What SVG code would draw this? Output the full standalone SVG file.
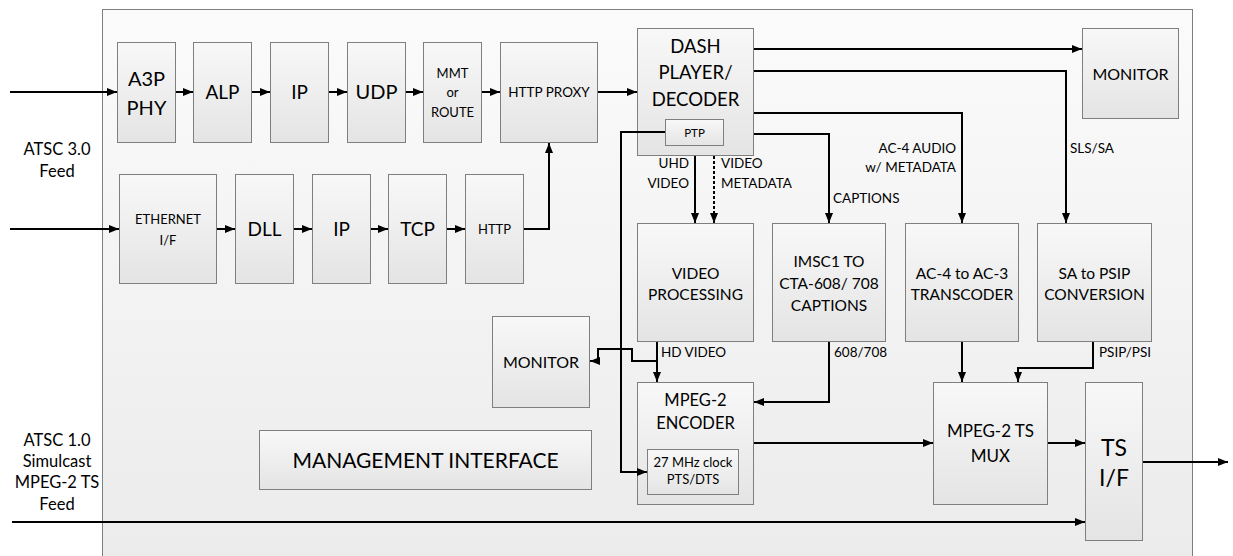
<svg xmlns="http://www.w3.org/2000/svg" width="1233" height="556" viewBox="0 0 1233 556">
<defs>
<linearGradient id="gOuter" x1="0" y1="0" x2="0" y2="1"><stop offset="0" stop-color="#fbfbfb"/><stop offset="1" stop-color="#ebebeb"/></linearGradient>
<linearGradient id="gBox" x1="0" y1="0" x2="0" y2="1"><stop offset="0" stop-color="#f8f8f8"/><stop offset="1" stop-color="#e4e4e4"/></linearGradient>
<marker id="ah" markerUnits="userSpaceOnUse" markerWidth="10" markerHeight="8" refX="10" refY="4" orient="auto"><path d="M0,0 L10,4 L0,8 z" fill="#000"/></marker>
</defs>
<style>
.box{fill:url(#gBox);stroke:#7f7f7f;stroke-width:1}
.t{font-family:Lato,"Liberation Sans",sans-serif;fill:#000;text-anchor:middle}
.big{font-size:19px}
.mid{font-size:16px}
.md2{font-size:15.5px}
.sm{font-size:13px}
.lbl{font-family:Lato,"Liberation Sans",sans-serif;font-size:13.5px;fill:#000}
.c{fill:none;stroke:#000;stroke-width:2;marker-end:url(#ah)}
</style>
<rect id="outer" x="102.5" y="9.5" width="1090" height="560" fill="url(#gOuter)" stroke="#7f7f7f" stroke-width="1"/>

<g id="atsc3-label"><text class="t" style="font-size:16.5px" x="57" y="155">ATSC 3.0</text><text class="t" style="font-size:16.5px" x="57" y="177">Feed</text></g>
<g id="atsc1-label"><text class="t" style="font-size:16.5px" x="57" y="446">ATSC 1.0</text><text class="t" style="font-size:16.5px" x="57" y="467">Simulcast</text><text class="t" style="font-size:16.5px" x="57" y="488">MPEG-2 TS</text><text class="t" style="font-size:16.5px" x="57" y="510">Feed</text></g>

<g id="a3p"><rect class="box" x="117.5" y="42.5" width="58" height="100"/><text class="t" style="font-size:20px" x="146.5" y="86">A3P</text><text class="t" style="font-size:20px" x="146.5" y="115">PHY</text></g>
<g id="alp"><rect class="box" x="193.5" y="42.5" width="58" height="100"/><text class="t big" x="222.5" y="99">ALP</text></g>
<g id="ip1"><rect class="box" x="270.5" y="42.5" width="58" height="100"/><text class="t big" x="299.5" y="99">IP</text></g>
<g id="udp"><rect class="box" x="347.5" y="42.5" width="58" height="100"/><text class="t" style="font-size:20px" x="376.5" y="99">UDP</text></g>
<g id="mmt"><rect class="box" x="423.5" y="42.5" width="58" height="100"/><text class="t sm" x="452.5" y="78">MMT</text><text class="t sm" x="452.5" y="97">or</text><text class="t sm" x="452.5" y="117">ROUTE</text></g>
<g id="proxy"><rect class="box" x="500.5" y="42.5" width="97" height="100"/><text class="t" style="font-size:13.5px" x="549" y="97">HTTP PROXY</text></g>
<g id="dash"><rect class="box" x="637.5" y="28.5" width="116" height="127"/><text class="t" style="font-size:18.5px" x="695.5" y="53">DASH</text><text class="t" style="font-size:18.5px" x="695.5" y="79">PLAYER/</text><text class="t" style="font-size:18.5px" x="695.5" y="106">DECODER</text>
<rect class="box" x="665.5" y="119.5" width="58" height="26"/><text class="t" style="font-size:11.5px" x="694.5" y="137">PTP</text></g>
<g id="monitor1"><rect class="box" x="1082.5" y="28.5" width="96" height="90"/><text class="t mid" x="1130.5" y="80">MONITOR</text></g>

<g id="eth"><rect class="box" x="119.5" y="174.5" width="97" height="109"/><text class="t sm" x="168" y="224">ETHERNET</text><text class="t sm" x="168" y="245">I/F</text></g>
<g id="dll"><rect class="box" x="235.5" y="174.5" width="58" height="109"/><text class="t big" x="264.5" y="236">DLL</text></g>
<g id="ip2"><rect class="box" x="312.5" y="174.5" width="58" height="109"/><text class="t big" x="341.5" y="236">IP</text></g>
<g id="tcp"><rect class="box" x="388.5" y="174.5" width="58" height="109"/><text class="t big" x="417.5" y="236">TCP</text></g>
<g id="http"><rect class="box" x="465.5" y="174.5" width="58" height="109"/><text class="t sm" x="494.5" y="234">HTTP</text></g>

<g id="vproc"><rect class="box" x="637.5" y="223.5" width="116" height="118"/><text class="t md2" x="695.5" y="279">VIDEO</text><text class="t md2" x="695.5" y="300">PROCESSING</text></g>
<g id="imsc"><rect class="box" x="772.5" y="223.5" width="113" height="118"/><text class="t md2" x="829" y="267">IMSC1 TO</text><text class="t md2" x="829" y="289">CTA-608/ 708</text><text class="t md2" x="829" y="311">CAPTIONS</text></g>
<g id="ac4"><rect class="box" x="905.5" y="223.5" width="113" height="118"/><text class="t md2" x="962" y="279">AC-4 to AC-3</text><text class="t md2" x="962" y="300">TRANSCODER</text></g>
<g id="sa"><rect class="box" x="1037.5" y="223.5" width="114" height="118"/><text class="t md2" x="1094.5" y="279">SA to PSIP</text><text class="t md2" x="1094.5" y="300">CONVERSION</text></g>

<g id="monitor2"><rect class="box" x="492.5" y="316.5" width="97" height="91"/><text class="t mid" x="541" y="368">MONITOR</text></g>
<g id="mgmt"><rect class="box" x="259.5" y="430.5" width="332" height="59"/><text class="t" style="font-size:21px" x="425.5" y="468">MANAGEMENT INTERFACE</text></g>

<g id="encoder"><rect class="box" x="637.5" y="382.5" width="116" height="122"/><text class="t" style="font-size:16.5px" x="695.5" y="406">MPEG-2</text><text class="t" style="font-size:16.5px" x="695.5" y="429">ENCODER</text>
<rect class="box" x="647.5" y="449.5" width="91" height="45"/><text class="t sm" x="693" y="467">27 MHz clock</text><text class="t sm" x="693" y="484">PTS/DTS</text></g>
<g id="mux"><rect class="box" x="933.5" y="382.5" width="114" height="122"/><text class="t" style="font-size:17px" x="990.5" y="437">MPEG-2 TS</text><text class="t" style="font-size:17px" x="990.5" y="462">MUX</text></g>
<g id="tsif"><rect class="box" x="1085.5" y="382.5" width="57" height="158"/><text class="t" style="font-size:23px" x="1114" y="456">TS</text><text class="t" style="font-size:23px" x="1114" y="486">I/F</text></g>

<g id="connectors">
<path class="c" d="M10,92 H117"/>
<path class="c" d="M176,92 H193"/>
<path class="c" d="M252,92 H270"/>
<path class="c" d="M329,92 H347"/>
<path class="c" d="M406,92 H423"/>
<path class="c" d="M482,92 H500"/>
<path class="c" d="M598,92 H637"/>
<path class="c" d="M10,229 H119"/>
<path class="c" d="M217,229 H235"/>
<path class="c" d="M294,229 H312"/>
<path class="c" d="M371,229 H388"/>
<path class="c" d="M447,229 H465"/>
<path class="c" d="M524,229 H549 V143"/>
<path class="c" d="M754,49 H1082"/>
<path class="c" d="M754,71 H1066 V223"/>
<path class="c" d="M754,113 H962 V223"/>
<path class="c" d="M754,134 H829 V223"/>
<path class="c" d="M695,156 V223"/>
<path class="c" d="M714,156 V223" style="stroke-dasharray:3,2"/>
<path class="c" d="M665,132 H621 V472 H647"/>
<path class="c" d="M657,342 V382"/>
<path class="c" d="M657,361 H632 V349 H598 V361 H590"/>
<path class="c" d="M829,342 V402 H754"/>
<path class="c" d="M754,443 H933"/>
<path class="c" d="M962,342 V382"/>
<path class="c" d="M1093,342 V368 H1018 V382"/>
<path class="c" d="M1048,443 H1085"/>
<path class="c" d="M1143,462 H1228"/>
<path class="c" d="M12,522 H1085"/>
</g>
<g id="labels">
<text class="lbl" x="689" y="168" text-anchor="end">UHD</text>
<text class="lbl" x="689" y="188" text-anchor="end">VIDEO</text>
<text class="lbl" x="721" y="168">VIDEO</text>
<text class="lbl" x="721" y="188">METADATA</text>
<text class="lbl" x="833" y="203">CAPTIONS</text>
<text class="lbl" x="956" y="153" text-anchor="end">AC-4 AUDIO</text>
<text class="lbl" x="956" y="172" text-anchor="end">w/ METADATA</text>
<text class="lbl" x="1070" y="153">SLS/SA</text>
<text class="lbl" x="661" y="357">HD VIDEO</text>
<text class="lbl" x="834" y="357">608/708</text>
<text class="lbl" x="1099" y="357">PSIP/PSI</text>
</g>
</svg>
